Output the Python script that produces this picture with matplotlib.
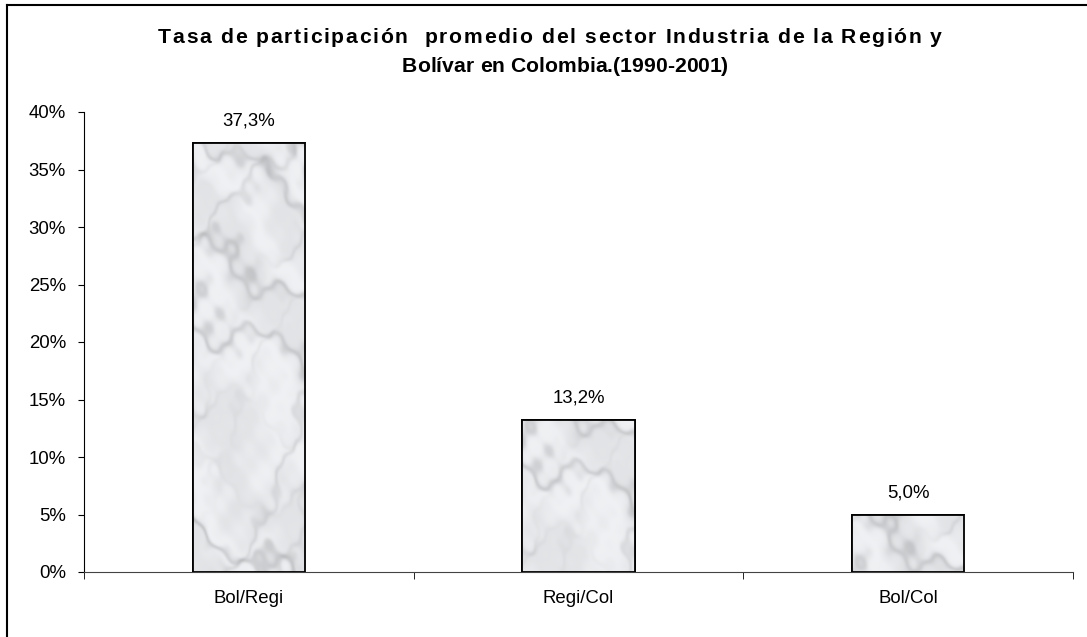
import numpy as np
import matplotlib.pyplot as plt
from matplotlib.lines import Line2D
from matplotlib import font_manager, ft2font

categories = ['Bol/Regi', 'Regi/Col', 'Bol/Col']
values = [37.3, 13.2, 5.0]
value_labels = ['37,3%', '13,2%', '5,0%']
yticks = [0, 5, 10, 15, 20, 25, 30, 35, 40]
title_lines = ['Tasa de participación  promedio del sector Industria de la Región y',
               'Bolívar en Colombia.(1990-2001)']

plt.rcParams['font.family'] = ['Liberation Sans', 'DejaVu Sans']
W, H = 1087, 637
FS = 13.4

fig = plt.figure(figsize=(W / 100, H / 100), dpi=100)
ax = fig.add_axes([84 / W, 1 - 572 / H, (1073 - 84) / W, (572 - 112) / H])

x = np.arange(len(categories))
bars = ax.bar(x, values, width=0.34, facecolor='#e4e6e8', edgecolor='black', linewidth=1.3, zorder=3)


# marble-like texture, decoration only
def marble(h, w, shift):
    yy, xx = np.mgrid[0:h, 0:w].astype(float)
    yy = yy + shift
    n = (np.sin(xx * 0.021 + yy * 0.013) + 0.6 * np.sin(xx * 0.047 - yy * 0.031 + 1.3)
         + 0.4 * np.sin(xx * 0.09 + yy * 0.07 + 2.1) + 0.3 * np.sin(-xx * 0.17 + yy * 0.13 + 0.7)
         + 0.15 * np.sin(xx * 0.31 + yy * 0.23))
    t = xx * 0.028 + yy * 0.05 + 1.1 * n
    veins = np.exp(-(np.sin(t) / 0.38) ** 2)
    t2 = -xx * 0.05 + yy * 0.03 + 0.9 * n + 1.0
    veins2 = np.exp(-(np.sin(t2) / 0.3) ** 2)
    mask = 0.5 + 0.5 * np.sin(xx * 0.017 + yy * 0.029 + n)
    mask2 = 0.5 + 0.5 * np.sin(-xx * 0.023 + yy * 0.019 + 2.0 + n)
    cloud = 0.5 + 0.5 * np.sin(xx * 0.06 + yy * 0.04 + 1.5 * n)
    g = 0.94 - 0.05 * cloud - 0.14 * veins * mask - 0.08 * veins2 * mask2
    rgb = np.stack([g, g + 0.004, g + 0.014], axis=-1)
    return np.clip(rgb, 0, 1)


px_per_unit = (572 - 112) / 40
for i, b in enumerate(bars):
    bx, bw, bh = b.get_x(), b.get_width(), b.get_height()
    tex = marble(int(bh * px_per_unit) + 2, 112, i * 137.0)
    im = ax.imshow(tex, extent=(bx, bx + bw, 0, bh), aspect='auto', origin='lower',
                   interpolation='bilinear', zorder=3.5)
    im.set_clip_path(b)
    ax.bar(bx + bw / 2, bh, width=bw, facecolor='none', edgecolor='black', linewidth=1.3, zorder=4)
    ax.text(x[i], values[i] + 1.5, value_labels[i], ha='center', va='baseline', fontsize=FS)

ax.set_xlim(-0.5, 2.5)
ax.set_ylim(0, 40)
ax.set_yticks(yticks)
ax.set_yticklabels([f'{t}%' for t in yticks], fontsize=FS)
ax.set_xticks(x)
ax.set_xticklabels(categories, fontsize=FS)
ax.set_xticks([-0.5, 0.5, 1.5, 2.5], minor=True)
ax.tick_params(axis='x', which='major', length=0, pad=13)
ax.tick_params(axis='x', which='minor', length=5, direction='out', color='black')
ax.tick_params(axis='y', length=4, direction='out', pad=9)
for s in ['top', 'right']:
    ax.spines[s].set_visible(False)
ax.spines['bottom'].set_color('#444444')
ax.spines['left'].set_color('black')

# title with letter spacing (Excel look)
fp = font_manager.FontProperties(family='Liberation Sans', weight='bold')
font = ft2font.FT2Font(font_manager.findfont(fp))
title_size = 15.2
font.set_size(title_size, 100)


def spaced_line(s, x0, x1, baseline):
    adv = [font.load_char(ord(c)).linearHoriAdvance / 65536 for c in s]
    sp = ((x1 - x0) - sum(adv)) / (len(s) - 1)
    xp = x0
    for c, a in zip(s, adv):
        if c != ' ':
            fig.text(xp / W, 1 - baseline / H, c, ha='left', va='baseline',
                     fontsize=title_size, fontweight='bold')
        xp += a + sp


spaced_line(title_lines[0], 158, 942, 43)
spaced_line(title_lines[1], 402, 728, 72)

# outer chart border
fig.add_artist(Line2D([7 / W, 7 / W], [0, 1 - 5 / H], color='black', lw=1.5, transform=fig.transFigure))
fig.add_artist(Line2D([7 / W, 1], [1 - 5 / H, 1 - 5 / H], color='black', lw=1.5, transform=fig.transFigure))

fig.savefig('out.png', dpi=100)
